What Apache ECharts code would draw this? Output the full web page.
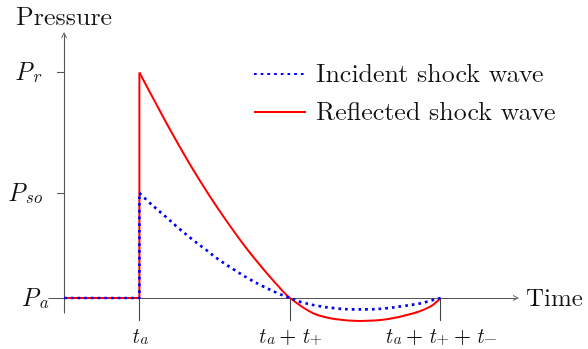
<!DOCTYPE html>
<html>
<head>
<meta charset="utf-8">
<script src="https://cdn.jsdelivr.net/npm/echarts@6/dist/echarts.min.js"></script>
<style>
  html, body { margin: 0; padding: 0; background: #ffffff; }
  #chart { width: 588px; height: 349px; }
</style>
</head>
<body>
<div id="chart"></div>
<script>
// Blast overpressure vs. time: incident and reflected shock waves.
// Time is in units of the arrival time t_a; pressure in units of P_so above P_a.

const seriesNames = ['Incident shock wave', 'Reflected shock wave'];

// Ambient level until arrival, then the jump at t_a
const incidentStep = [[0, 0], [1, 0], [1, 1]];
const reflectedStep = [[0, 0], [1, 0], [1, 2.15]];

// Decay, positive phase then negative phase
const incidentWave = [
  [1.0, 1.0], [1.178, 0.88], [1.35, 0.775], [1.523, 0.664], [1.696, 0.562],
  [1.876, 0.464], [2.054, 0.365], [2.244, 0.276], [2.434, 0.191], [2.633, 0.114],
  [2.838, 0.045], [3.0, 0], [3.157, -0.041], [3.377, -0.076], [3.599, -0.098],
  [3.821, -0.108], [4.041, -0.108], [4.276, -0.098], [4.506, -0.076], [4.728, -0.051],
  [5.0, 0]
];
const reflectedWave = [
  [1.0, 2.15], [1.215, 1.86], [1.438, 1.565], [1.686, 1.255], [1.939, 0.965],
  [2.164, 0.727], [2.404, 0.49], [2.629, 0.29], [2.829, 0.125], [3.0, 0],
  [3.31, -0.146], [3.62, -0.203], [3.93, -0.219], [4.285, -0.203], [4.64, -0.146],
  [4.86, -0.083], [5.0, 0]
];

// Axis ticks and their math labels (rich text)
const xTicks = [1, 3, 5];
const xTickLabels = [
  '{t|t}{s|a}',
  '{t|t}{s|a}{op|+}{t|t}{ss|+}',
  '{t|t}{s|a}{op|+}{t|t}{ss|+}{op|+}{t|t}{ss|\u2212}'
];
const yTicks = [0, 1, 2.15];
const yTickLabels = ['{P|P}{s|a}', '{P|P}{s|so}{gapA|}', '{P|P}{s|r}{gapB|}'];

const SERIF = '"Latin Modern Roman", "Liberation Serif", serif';
const AXIS_COLOR = '#555555';
const TEXT = '#111111';
const RED = '#ff0000';
const BLUE = '#0000ff';
const chevron = 'path://M0,10 L5,0 L10,10 L8.4,10 L5,3.2 L1.6,10 Z';

function pick(list, ticks, v) {
  const i = ticks.findIndex(function (t) { return Math.abs(t - v) < 1e-6; });
  return i >= 0 ? list[i] : '';
}

const redLine = { color: RED, width: 2 };
const blueLine = { color: BLUE, width: 2.7, type: [2.7, 4], cap: 'butt' };

function draw() {
  const chart = echarts.init(document.getElementById('chart'), null, { renderer: 'canvas' });
  chart.setOption({
    animation: false,
    backgroundColor: '#ffffff',
    grid: { left: 49, right: 72, top: 35, bottom: 36, containLabel: false, outerBoundsMode: 'none' },
    legend: {
      data: seriesNames,
      orient: 'vertical',
      left: 248,
      top: 56,
      itemWidth: 52,
      itemHeight: 14,
      itemGap: 12,
      itemStyle: { color: 'transparent', borderColor: 'transparent', borderWidth: 0 },
      textStyle: { fontFamily: SERIF, fontSize: 26, color: TEXT, lineHeight: 26, padding: [0, 0, 0, 5] }
    },
    xAxis: {
      type: 'value',
      min: -0.2,
      max: 6,
      name: 'Time',
      nameLocation: 'end',
      nameGap: 10,
      nameTextStyle: { fontFamily: SERIF, fontSize: 25, color: TEXT, verticalAlign: 'middle', padding: [4, 0, 0, 0] },
      axisLine: { onZero: true, symbol: ['none', chevron], symbolSize: [9, 6], lineStyle: { color: AXIS_COLOR, width: 1.1 } },
      axisTick: { show: true, inside: false, length: 23, customValues: xTicks, lineStyle: { color: '#444', width: 1.1 } },
      axisLabel: {
        customValues: xTicks,
        margin: 12,
        formatter: function (v) { return pick(xTickLabels, xTicks, v); },
        rich: {
          t: { fontFamily: SERIF, fontStyle: 'italic', fontSize: 22, lineHeight: 22, verticalAlign: 'top', color: TEXT },
          s: { fontFamily: SERIF, fontStyle: 'italic', fontSize: 16, lineHeight: 16, padding: [5, 0, 0, 1], verticalAlign: 'bottom', color: TEXT },
          ss: { fontFamily: SERIF, fontSize: 16, lineHeight: 16, padding: [5, 0, 0, 1], verticalAlign: 'bottom', color: TEXT },
          op: { fontFamily: SERIF, fontSize: 22, lineHeight: 22, padding: [0, 5, 0, 5], verticalAlign: 'top', color: TEXT }
        }
      },
      splitLine: { show: false }
    },
    yAxis: {
      type: 'value',
      min: -0.143,
      max: 2.507,
      name: 'Pressure',
      nameLocation: 'end',
      nameGap: 5,
      nameTextStyle: { fontFamily: SERIF, fontSize: 26, color: TEXT, align: 'center' },
      axisLine: { onZero: true, symbol: ['none', chevron], symbolSize: [9, 6], lineStyle: { color: AXIS_COLOR, width: 1.1 } },
      axisTick: { show: true, inside: false, length: 7, customValues: yTicks, lineStyle: { color: AXIS_COLOR, width: 1.1 } },
      axisLabel: {
        customValues: yTicks,
        margin: 1,
        formatter: function (v) { return pick(yTickLabels, yTicks, v); },
        rich: {
          P: { fontFamily: SERIF, fontStyle: 'italic', fontSize: 26, lineHeight: 26, verticalAlign: 'top', color: TEXT },
          s: { fontFamily: SERIF, fontStyle: 'italic', fontSize: 18, lineHeight: 18, padding: [11, 0, 0, 0], verticalAlign: 'bottom', color: TEXT },
          gapA: { width: 6, lineHeight: 1 },
          gapB: { width: 8, lineHeight: 1 }
        }
      },
      splitLine: { show: false }
    },
    series: [
      { name: seriesNames[1], type: 'line', data: reflectedStep, symbol: 'none', clip: false, lineStyle: redLine, itemStyle: { color: RED }, z: 2 },
      { name: seriesNames[1], type: 'line', data: reflectedWave, symbol: 'none', clip: false, smooth: 0.35, lineStyle: redLine, itemStyle: { color: RED }, z: 2 },
      { name: seriesNames[0], type: 'line', data: incidentStep, symbol: 'none', clip: false, lineStyle: blueLine, itemStyle: { color: BLUE }, z: 3 },
      { name: seriesNames[0], type: 'line', data: incidentWave, symbol: 'none', clip: false, smooth: 0.35, lineStyle: blueLine, itemStyle: { color: BLUE }, z: 3 }
    ]
  });
}

// Make sure the serif faces are ready before the canvas text is drawn
const faces = [
  '26px "Latin Modern Roman"', 'italic 26px "Latin Modern Roman"',
  '26px "Liberation Serif"', 'italic 26px "Liberation Serif"'
];
let drawn = false;
function drawOnce() { if (!drawn) { drawn = true; draw(); } }
if (document.fonts && document.fonts.load) {
  Promise.all(faces.map(function (f) { return document.fonts.load(f).catch(function () { return null; }); }))
    .then(drawOnce, drawOnce);
  setTimeout(drawOnce, 1500);
} else {
  drawOnce();
}
</script>
</body>
</html>
